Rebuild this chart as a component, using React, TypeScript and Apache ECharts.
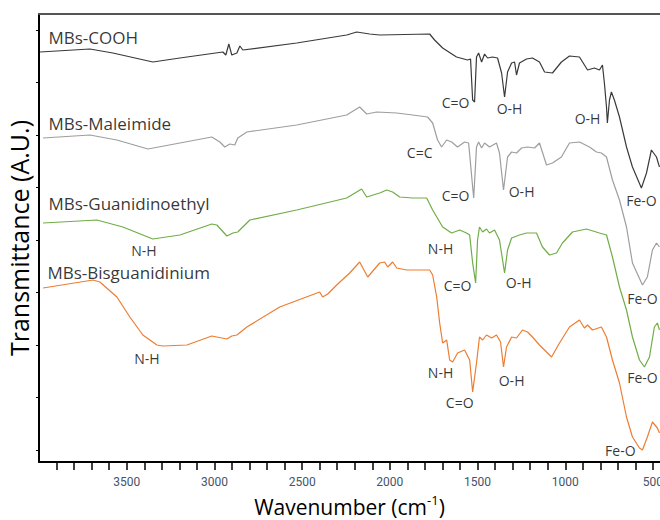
import React, { useEffect, useRef } from "react";
import * as echarts from "echarts";

// Wavenumber (cm-1), transmittance in arbitrary offset units
const cooh: [number, number][] = [
  [3994, 410], [3710, 413], [3579, 409], [3351, 400], [3197, 404], [2952, 410],
  [2935, 407], [2918, 418], [2901, 407], [2872, 409], [2855, 416], [2838, 412],
  [2531, 419], [2246, 427], [2189, 430], [2115, 428], [2058, 427], [1773, 428],
  [1745, 422], [1699, 414], [1620, 405], [1557, 402], [1540, 403], [1528, 362],
  [1517, 360], [1506, 405], [1494, 409], [1477, 400], [1460, 408], [1443, 404],
  [1415, 405], [1386, 404], [1363, 389], [1346, 365], [1329, 390], [1306, 399],
  [1289, 400], [1278, 387], [1261, 399], [1221, 403], [1187, 404], [1147, 400],
  [1118, 390], [1073, 389], [1022, 400], [976, 406], [919, 405], [873, 392],
  [834, 394], [805, 392], [788, 397], [777, 379], [765, 355], [760, 339],
  [748, 362], [737, 370], [720, 362], [691, 345], [651, 315], [617, 295],
  [566, 274], [537, 289], [509, 312], [480, 305], [463, 295],
];

const maleimide: [number, number][] = [
  [3977, 324], [3710, 327], [3556, 322], [3379, 313], [3197, 319], [3015, 325],
  [2969, 320], [2941, 315], [2912, 318], [2884, 317], [2867, 324], [2815, 330],
  [2531, 337], [2246, 347], [2172, 355], [2132, 348], [2075, 350], [1961, 349],
  [1870, 347], [1785, 345], [1756, 339], [1728, 322], [1705, 315], [1676, 322],
  [1648, 320], [1614, 315], [1574, 320], [1551, 319], [1528, 275], [1522, 264],
  [1506, 315], [1494, 320], [1477, 314], [1460, 319], [1432, 315], [1392, 319],
  [1375, 309], [1352, 272], [1329, 305], [1306, 310], [1278, 309], [1249, 314],
  [1215, 315], [1175, 314], [1147, 319], [1107, 297], [1073, 299], [1022, 305],
  [976, 319], [919, 320], [862, 315], [822, 310], [794, 309], [765, 305],
  [731, 282], [691, 262], [651, 235], [617, 199], [560, 177], [532, 185],
  [503, 212], [480, 219], [463, 215],
];

const guanidinoethyl: [number, number][] = [
  [3977, 239], [3670, 242], [3522, 235], [3351, 223], [3197, 227], [3015, 238],
  [2986, 237], [2929, 226], [2895, 229], [2867, 230], [2798, 242], [2531, 252],
  [2246, 264], [2161, 273], [2132, 265], [2058, 269], [2018, 272], [1984, 270],
  [1944, 265], [1870, 264], [1790, 264], [1756, 252], [1699, 235], [1648, 229],
  [1602, 232], [1563, 229], [1545, 227], [1528, 199], [1511, 179], [1500, 222],
  [1489, 235], [1471, 230], [1449, 233], [1432, 229], [1403, 232], [1375, 222],
  [1346, 189], [1329, 212], [1306, 224], [1261, 227], [1221, 229], [1164, 229],
  [1130, 215], [1090, 207], [1050, 209], [1016, 219], [959, 230], [879, 233],
  [805, 229], [765, 227], [731, 205], [691, 175], [651, 152], [617, 125],
  [577, 102], [549, 95], [520, 105], [492, 135], [475, 139], [463, 132],
];

const bisguanidinium: [number, number][] = [
  [3977, 174], [3692, 182], [3653, 180], [3556, 165], [3482, 145], [3408, 127],
  [3328, 117], [3294, 116], [3157, 117], [3015, 126], [2929, 123], [2901, 126],
  [2872, 127], [2815, 135], [2628, 155], [2400, 170], [2383, 165], [2354, 168],
  [2303, 177], [2229, 189], [2172, 200], [2126, 185], [2058, 199], [2030, 200],
  [2012, 195], [1984, 200], [1961, 194], [1904, 192], [1773, 192], [1756, 187],
  [1733, 165], [1716, 139], [1699, 119], [1676, 122], [1659, 102], [1642, 100],
  [1614, 109], [1574, 112], [1545, 102], [1528, 70], [1506, 99], [1489, 125],
  [1471, 122], [1449, 127], [1420, 124], [1392, 127], [1369, 120], [1352, 95],
  [1335, 115], [1306, 125], [1278, 124], [1244, 132], [1215, 130], [1187, 125],
  [1147, 117], [1078, 105], [1033, 119], [976, 135], [919, 142], [891, 134],
  [873, 137], [845, 132], [794, 135], [765, 125], [731, 102], [691, 79],
  [651, 45], [617, 25], [577, 14], [560, 12], [532, 25], [503, 40], [475, 34],
  [463, 29],
];

const seriesNames = ["MBs-COOH", "MBs-Maleimide", "MBs-Guanidinoethyl", "MBs-Bisguanidinium"];
const seriesColors = ["#3a3a3a", "#9e9e9e", "#70ad47", "#ed7d31"];

// [text, wavenumber, value]
const nameLabels: [string, number, number][] = [
  ["MBs-COOH", 3949, 425],
  ["MBs-Maleimide", 3949, 339],
  ["MBs-Guanidinoethyl", 3949, 259],
  ["MBs-Bisguanidinium", 3955, 190],
];

const peakLabels: [string, number, number][] = [
  ["C=O", 1625, 360], ["O-H", 1318, 354], ["O-H", 873, 344], ["Fe-O", 566, 262],
  ["C=C", 1830, 310], ["C=O", 1625, 267], ["O-H", 1249, 271], ["Fe-O", 560, 164],
  ["N-H", 3402, 212], ["N-H", 1711, 214], ["C=O", 1614, 177], ["O-H", 1266, 180], ["Fe-O", 560, 85],
  ["N-H", 3385, 104], ["N-H", 1711, 90], ["C=O", 1602, 60], ["O-H", 1306, 82], ["Fe-O", 686, 12],
];

const xTicks = [3900, 3800, 3700, 3600, 3500, 3400, 3300, 3200, 3100, 3000, 2900, 2800, 2700, 2600, 2500, 2400, 2300, 2200, 2100, 2000, 1900, 1800, 1700, 1600, 1500, 1400, 1300, 1200, 1100, 1000, 900, 800, 700, 600, 500];
const xTickLabels = [3500, 3000, 2500, 2000, 1500, 1000, 500];
const yTicks = [12, 64.5, 117, 169.5, 222, 274.5, 327, 379.5, 432];

const spectra = [cooh, maleimide, guanidinoethyl, bisguanidinium];

export default function App() {
  const ref = useRef<HTMLDivElement>(null);
  useEffect(() => {
    if (!ref.current) return;
    const chart = echarts.init(ref.current, null, { renderer: "svg" });
    const font = "'Open Sans', 'Noto Sans', sans-serif";
    const option: any = {
      animation: false,
      grid: { left: 39, right: 0, top: 14, bottom: 58, containLabel: false, outerBoundsMode: "none" },
      xAxis: [
        {
          type: "value",
          min: 460,
          max: 4000,
          inverse: true,
          position: "bottom",
          name: "Wavenumber (cm{sup|-1})",
          nameLocation: "middle",
          nameGap: 31,
          nameTextStyle: {
            fontFamily: font,
            fontSize: 21,
            color: "#000",
            lineHeight: 28,
            rich: {
              sup: { fontFamily: font, fontSize: 13, color: "#000", lineHeight: 14, verticalAlign: "top" },
            },
          },
          axisLine: { show: true, onZero: false, lineStyle: { color: "#000", width: 2 } },
          axisTick: { show: true, inside: false, length: 8, customValues: xTicks, lineStyle: { color: "#000", width: 1.5 } },
          axisLabel: {
            customValues: xTickLabels,
            formatter: (v: number) => String(v),
            margin: 14,
            color: "#44546a",
            fontSize: 12,
            fontFamily: "'Liberation Sans Narrow', Roboto, sans-serif",
          },
          splitLine: { show: false },
        },
        {
          type: "value",
          min: 460,
          max: 4000,
          inverse: true,
          position: "top",
          axisLine: { show: true, onZero: false, lineStyle: { color: "#555", width: 2 } },
          axisTick: { show: false },
          axisLabel: { show: false },
          splitLine: { show: false },
        },
      ],
      yAxis: {
        type: "value",
        min: 0,
        max: 448,
        name: "Transmittance (A.U.)",
        nameLocation: "middle",
        nameRotate: 90,
        nameGap: 8,
        nameTextStyle: { fontFamily: font, fontSize: 25, color: "#000" },
        axisLine: { show: true, onZero: false, lineStyle: { color: "#000", width: 2 } },
        axisTick: { show: true, length: 3, customValues: yTicks, lineStyle: { color: "#000" } },
        axisLabel: { show: false },
        splitLine: { show: false },
      },
      series: [
        ...spectra.map((d, i) => ({
          type: "line",
          name: seriesNames[i],
          data: d,
          showSymbol: false,
          symbol: "none",
          silent: true,
          lineStyle: { color: seriesColors[i], width: 1.2 },
          itemStyle: { color: seriesColors[i] },
        })),
        {
          type: "scatter",
          silent: true,
          symbolSize: 1,
          itemStyle: { color: "transparent" },
          data: nameLabels.map(([t, x, y]) => ({ name: t, value: [x, y] })),
          label: {
            show: true,
            position: "right",
            distance: 0,
            formatter: (p: any) => p.name,
            color: "#000",
            fontSize: 17,
            fontFamily: font,
          },
        },
        {
          type: "scatter",
          silent: true,
          symbolSize: 1,
          itemStyle: { color: "transparent" },
          data: peakLabels.map(([t, x, y]) => ({ name: t, value: [x, y] })),
          label: {
            show: true,
            position: "inside",
            formatter: (p: any) => p.name,
            color: "#000",
            fontSize: 14,
            fontFamily: font,
          },
        },
      ],
    };
    chart.setOption(option);
    return () => chart.dispose();
  }, []);
  return <div ref={ref} style={{ position: "absolute", left: 0, top: 0, width: 660, height: 520 }} />;
}
